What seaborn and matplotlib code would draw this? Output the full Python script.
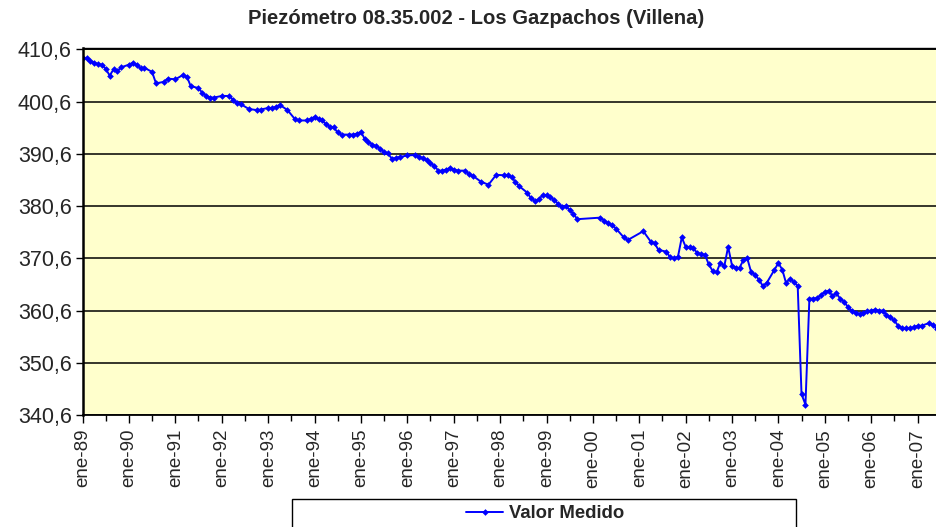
import pandas as pd
import matplotlib
matplotlib.use('Agg')
import matplotlib.pyplot as plt
import matplotlib.dates as mdates
from matplotlib.patches import Rectangle
from matplotlib.ticker import FuncFormatter, FixedLocator
import seaborn as sns

title = 'Piezómetro 08.35.002 - Los Gazpachos (Villena)'
y_label = 'm s.n.m.'
series_name = 'Valor Medido'
y_ticks = [340.6, 350.6, 360.6, 370.6, 380.6, 390.6, 400.6, 410.6]

fechas = [
    '1989-01', '1989-02', '1989-03', '1989-04', '1989-05', '1989-06', '1989-07', '1989-08', '1989-09', '1989-10', '1989-11',
    '1990-01', '1990-02', '1990-03', '1990-04', '1990-05', '1990-07', '1990-08', '1990-10', '1990-11',
    '1991-01', '1991-03', '1991-04', '1991-05', '1991-07', '1991-08', '1991-09', '1991-10', '1991-11',
    '1992-01', '1992-03', '1992-04', '1992-05', '1992-06', '1992-08', '1992-10', '1992-11',
    '1993-01', '1993-02', '1993-03', '1993-04', '1993-06', '1993-08', '1993-09', '1993-11', '1993-12',
    '1994-01', '1994-02', '1994-03', '1994-04', '1994-05', '1994-06', '1994-07', '1994-08', '1994-10', '1994-11', '1994-12',
    '1995-01', '1995-02', '1995-03', '1995-04', '1995-05', '1995-06', '1995-07', '1995-08', '1995-09', '1995-10', '1995-11',
    '1996-01', '1996-03', '1996-04', '1996-05', '1996-06', '1996-07', '1996-08', '1996-09', '1996-10', '1996-11', '1996-12',
    '1997-01', '1997-02', '1997-04', '1997-05', '1997-06', '1997-08', '1997-10', '1997-12',
    '1998-02', '1998-03', '1998-04', '1998-05', '1998-06', '1998-08', '1998-09', '1998-10', '1998-11', '1998-12',
    '1999-01', '1999-02', '1999-03', '1999-04', '1999-05', '1999-06', '1999-07', '1999-08', '1999-09',
    '2000-03', '2000-04', '2000-05', '2000-06', '2000-07', '2000-09', '2000-10',
    '2001-02', '2001-04', '2001-05', '2001-06', '2001-08', '2001-09', '2001-10', '2001-11', '2001-12',
    '2002-01', '2002-02', '2002-03', '2002-04', '2002-05', '2002-06', '2002-07', '2002-08', '2002-09', '2002-10', '2002-11', '2002-12',
    '2003-01', '2003-02', '2003-03', '2003-04', '2003-05', '2003-06', '2003-07', '2003-08', '2003-09', '2003-10', '2003-12',
    '2004-01', '2004-02', '2004-03', '2004-04', '2004-05', '2004-06', '2004-07', '2004-08', '2004-09', '2004-10', '2004-11', '2004-12',
    '2005-01', '2005-02', '2005-03', '2005-04', '2005-05', '2005-06', '2005-07', '2005-08', '2005-09', '2005-10', '2005-11', '2005-12',
    '2006-01', '2006-02', '2006-03', '2006-04', '2006-05', '2006-06', '2006-07', '2006-08', '2006-09', '2006-10', '2006-11', '2006-12',
    '2007-01', '2007-02', '2007-04', '2007-05', '2007-06',
]

nivel = [
    409.0, 408.9, 408.4, 408.1, 407.8, 407.7, 406.9, 405.6, 406.8, 406.5, 407.2,
    407.7, 408.1, 407.7, 407.0, 407.1, 406.3, 404.1, 404.4, 405.0,
    404.9, 405.7, 405.4, 403.6, 403.2, 402.3, 401.7, 401.4, 401.4,
    401.7, 401.7, 400.9, 400.4, 400.1, 399.2, 399.0, 399.1,
    399.4, 399.4, 399.6, 400.0, 399.0, 397.2, 397.0, 397.0, 397.3,
    397.7, 397.3, 397.0, 396.3, 395.8, 395.7, 394.7, 394.3, 394.3, 394.3, 394.5,
    394.8, 393.4, 392.9, 392.4, 392.1, 391.6, 391.0, 390.7, 389.7, 389.8, 390.0,
    390.3, 390.4, 390.1, 389.8, 389.4, 388.8, 388.3, 387.4, 387.4, 387.6, 387.9,
    387.6, 387.4, 387.4, 386.7, 386.4, 385.3, 384.7, 386.6,
    386.5, 386.5, 386.1, 385.3, 384.4, 383.2, 382.1, 381.6, 381.9, 382.7,
    382.7, 382.3, 381.8, 381.1, 380.5, 380.6, 379.9, 379.1, 378.1,
    378.4, 377.8, 377.3, 377.0, 376.3, 374.6, 374.1,
    375.8, 373.8, 373.5, 372.2, 371.9, 370.8, 370.6, 370.9, 374.6,
    372.8, 372.7, 372.5, 371.7, 371.4, 371.3, 369.5, 368.2, 367.9, 369.8, 369.1, 372.8,
    369.2, 368.8, 368.8, 370.3, 370.6, 367.9, 367.5, 366.5, 365.3, 365.9, 368.4,
    369.7, 368.4, 365.9, 366.7, 366.1, 365.3, 344.6, 342.6, 362.9, 362.9, 363.0, 363.6,
    364.2, 364.4, 363.4, 363.9, 362.9, 362.3, 361.3, 360.6, 360.2, 359.9, 360.2, 360.5,
    360.6, 360.8, 360.6, 360.6, 359.8, 359.3, 358.7, 357.7, 357.2, 357.2, 357.2, 357.4,
    357.7, 357.7, 358.2, 357.9, 357.0,
]

df = pd.DataFrame({'fecha': pd.to_datetime(fechas), 'nivel': nivel})

sns.set_style('ticks')
plt.rcParams['font.family'] = ['Liberation Sans', 'DejaVu Sans']

fig = plt.figure(figsize=(9.36, 5.27), dpi=100)
ax = fig.add_axes([0.0884, 0.2125, 0.9116, 0.697])
ax.set_facecolor('#FFFFCC')

sns.lineplot(data=df, x='fecha', y='nivel', ax=ax, color='#0000FF', marker='D',
             markersize=3.4, markeredgewidth=0, linewidth=1.4, label=series_name, legend=False)

ax.set_xlim(pd.Timestamp('1989-01-01'), pd.Timestamp('2007-05-26'))
ax.set_ylim(340.6, 410.94)

ax.xaxis.set_major_locator(mdates.YearLocator())
ax.xaxis.set_minor_locator(mdates.MonthLocator(bymonth=7))
ax.xaxis.set_major_formatter(FuncFormatter(lambda v, p: 'ene-%02d' % (mdates.num2date(v).year % 100)))
ax.yaxis.set_major_locator(FixedLocator(y_ticks))
ax.yaxis.set_major_formatter(FuncFormatter(lambda v, p: ('%.1f' % v).replace('.', ',')))

ax.tick_params(axis='x', which='major', length=6, width=1, color='black', labelsize=13.5,
               labelrotation=90, pad=4)
ax.tick_params(axis='x', which='minor', length=4, width=1, color='black')
ax.tick_params(axis='y', length=5, width=1, color='black', labelsize=15.5, pad=3)

ax.yaxis.grid(True, color='black', linewidth=1.1)
ax.set_axisbelow(True)
for side in ['left', 'bottom', 'top']:
    ax.spines[side].set_color('black')
ax.spines['left'].set_linewidth(1.8)
ax.spines['bottom'].set_linewidth(1.3)
ax.spines['top'].set_linewidth(1.0)
ax.spines['right'].set_visible(False)

# doble linea arriba como en el grafico de Excel
ax.axhline(y_ticks[-1], color='black', linewidth=1.1)

ax.set_xlabel('')
ax.set_ylabel(y_label, fontsize=14, fontweight='bold')
ax.yaxis.set_label_coords(-0.0935, 0.5)

fig.text(476 / 936, 1 - 19 / 527, title, ha='center', va='center', fontsize=14.6, fontweight='bold')

# caja de la leyenda (cortada abajo como en el original)
fig.patches.append(Rectangle((292 / 936, -0.05), 504 / 936, 0.05 + 28 / 527, transform=fig.transFigure,
                             facecolor='white', edgecolor='black', linewidth=1.0))
handles, labels = ax.get_legend_handles_labels()
fig.legend(handles, labels, loc='center', bbox_to_anchor=(545 / 936, 1 - 514 / 527), frameon=False,
           prop={'weight': 'bold', 'size': 13.3}, handlelength=2.0, handletextpad=0.3, borderpad=0)

fig.savefig('out.png', dpi=100)
